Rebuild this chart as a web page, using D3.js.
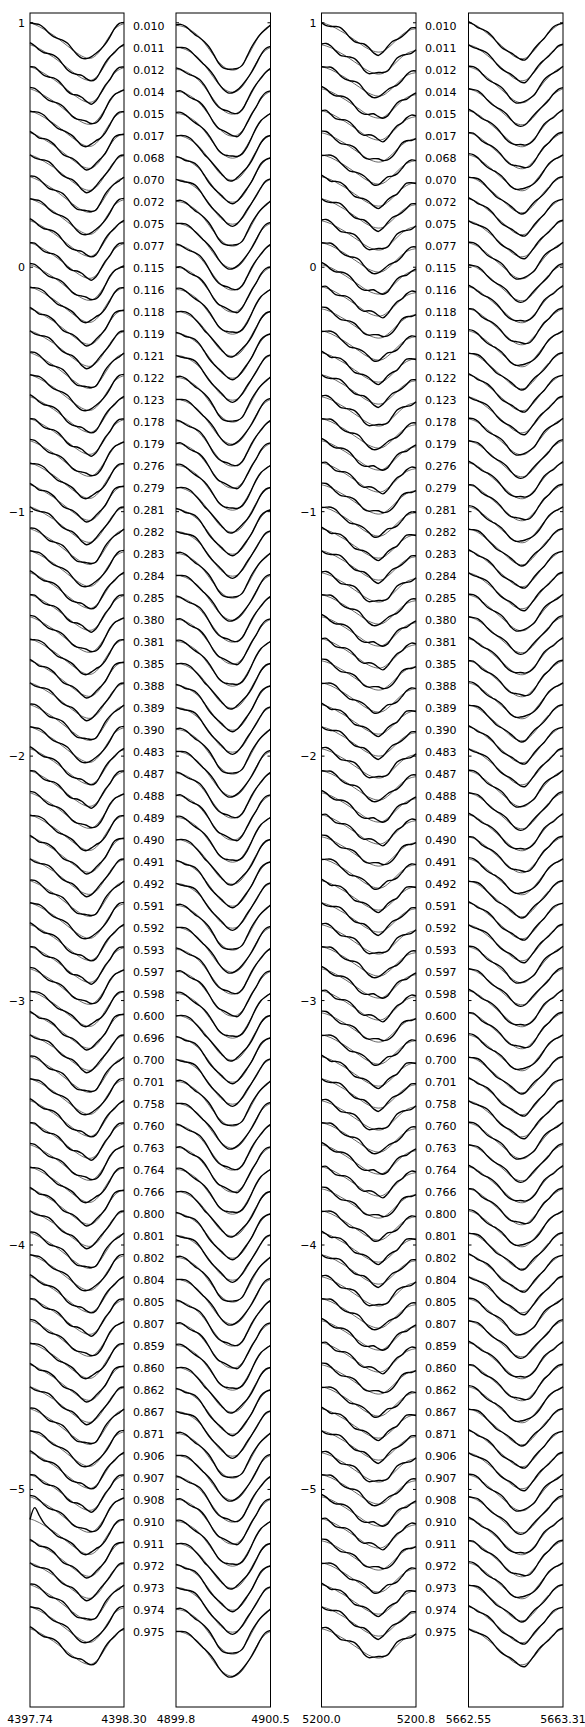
<!DOCTYPE html>
<html>
<head>
<meta charset="utf-8">
<script src="https://cdn.jsdelivr.net/npm/d3@7"></script>
<style>
body { margin: 0; background: #fff; }
svg text { font-family: "DejaVu Sans", sans-serif; font-size: 11px; fill: #000; }
</style>
</head>
<body>
<svg id="chart" width="585" height="1727"></svg>
<script>
// Rotational phases, one per stacked profile (top to bottom)
var phases = ["0.010","0.011","0.012","0.014","0.015","0.017","0.068","0.070","0.072","0.075",
  "0.077","0.115","0.116","0.118","0.119","0.121","0.122","0.123","0.178","0.179",
  "0.276","0.279","0.281","0.282","0.283","0.284","0.285","0.380","0.381","0.385",
  "0.388","0.389","0.390","0.483","0.487","0.488","0.489","0.490","0.491","0.492",
  "0.591","0.592","0.593","0.597","0.598","0.600","0.696","0.700","0.701","0.758",
  "0.760","0.763","0.764","0.766","0.800","0.801","0.802","0.804","0.805","0.807",
  "0.859","0.860","0.862","0.867","0.871","0.906","0.907","0.908","0.910","0.911",
  "0.972","0.973","0.974","0.975"];

// Wavelength range of each panel and the tick labels printed under it
var waveRanges = [[4397.74, 4398.30], [4899.8, 4900.5], [5200.0, 5200.8], [5662.55, 5663.31]];
var waveLabels = [["4397.74", "4398.30"], ["4899.8", "4900.5"], ["5200.0", "5200.8"], ["5662.55", "5663.31"]];

var yTicks = [1, 0, -1, -2, -3, -4, -5];
var yDomain = [-5.89, 1.04];
var rowStep = 0.09;

// Positions across each panel (fraction of the wavelength range)
var samplePos = [0, 0.05, 0.1, 0.15, 0.2, 0.25, 0.3, 0.35, 0.4, 0.45, 0.5,
  0.55, 0.6, 0.65, 0.7, 0.75, 0.8, 0.85, 0.9, 0.95, 1];

var depth4398 = [0, 0.007, 0.016, 0.027, 0.039, 0.051, 0.065, 0.08, 0.095, 0.11, 0.124,
  0.136, 0.144, 0.145, 0.134, 0.112, 0.082, 0.052, 0.026, 0.011, 0.004];
var depth4900 = [0, 0.002, 0.008, 0.018, 0.031, 0.048, 0.071, 0.097, 0.124, 0.149, 0.167,
  0.179, 0.183, 0.178, 0.161, 0.132, 0.097, 0.062, 0.031, 0.011, 0];
var depth5200 = [0, 0.005, 0.012, 0.022, 0.033, 0.044, 0.057, 0.07, 0.083, 0.097, 0.108,
  0.116, 0.12, 0.117, 0.104, 0.087, 0.068, 0.05, 0.036, 0.028, 0.024];
var depth5663 = [0, 0.006, 0.015, 0.029, 0.044, 0.06, 0.077, 0.094, 0.111, 0.128, 0.141,
  0.147, 0.145, 0.131, 0.111, 0.087, 0.062, 0.041, 0.023, 0.009, 0];
var panelDepths = [depth4398, depth4900, depth5200, depth5663];
var panelBase = [0, -0.011, 0, 0];

// Bump patterns of the observed profiles (thousandths, scaled per panel)
var wiggle0 = [0, 1, 3, 2, -1, -2, 0, 3, 4, 1, -2, -3, -1, 2, 3, 1, -2, -2, 1, 3, 2];
var wiggle1 = [2, 3, 1, -2, -3, -1, 2, 3, 1, -1, 0, 3, 4, 1, -2, -3, -1, 2, 1, -1, 0];
var wiggle2 = [0, -2, -1, 2, 4, 2, -1, -2, 0, 3, 2, -2, -4, -1, 2, 3, 0, -2, -1, 2, 1];
var wiggle3 = [3, 1, -2, -2, 1, 3, 3, 0, -3, -2, 1, 4, 2, -1, -2, 1, 3, 1, -2, 0, 2];
var wiggle4 = [-1, 1, 3, 3, 0, -2, -3, 0, 2, 3, 1, -2, -1, 3, 4, 0, -3, -2, 1, 2, 0];
var wiggle5 = [1, 3, 2, -1, -3, -1, 2, 4, 2, -2, -3, 0, 2, 1, -1, 2, 4, 2, -1, -2, 1];
var wiggle6 = [0, 2, -1, -3, -1, 2, 3, 1, -2, -1, 3, 4, 1, -3, -2, 1, 2, 0, 2, 3, 1];
var wiggle7 = [2, 0, -2, 1, 3, 2, -1, -3, -1, 2, 2, -1, -3, 0, 3, 2, -1, 1, 3, 1, -1];
var wiggles = [wiggle0, wiggle1, wiggle2, wiggle3, wiggle4, wiggle5, wiggle6, wiggle7];
var wiggleScale = [2.8, 2.2, 3.4, 2.3];

// Isolated spike in the data (panel, row, sample index, height)
var spikePanel = [0, 0];
var spikeRow = [68, 68];
var spikeIdx = [1, 2];
var spikeHeight = [0.05, 0.02];

// Layout
var panelLeft = [30, 176, 321.5, 468.5];
var panelRight = [124, 270.5, 416, 563];
var svg = d3.select("#chart");

var yScale = d3.scaleLinear().domain(yDomain).range([1707, 13]);

var line = d3.line()
    .x(function (d) { return d[0]; })
    .y(function (d) { return d[1]; })
    .curve(d3.curveCatmullRom);

waveRanges.forEach(function (range, p) {
    var xScale = d3.scaleLinear().domain(range).range([panelLeft[p], panelRight[p]]);
    var g = svg.append("g").attr("class", "panel");
    var depth = panelDepths[p];

    phases.forEach(function (ph, k) {
        var cont = 1 + panelBase[p] - k * rowStep;
        var wig = wiggles[(k * 3 + p * 5) % wiggles.length];

        var model = samplePos.map(function (f, i) {
            return [xScale(range[0] + f * (range[1] - range[0])), yScale(cont - depth[i])];
        });
        var obs = samplePos.map(function (f, i) {
            var v = cont - depth[i] + wig[i] * wiggleScale[p] / 1000;
            for (var s = 0; s < spikeRow.length; s++) {
                if (spikePanel[s] == p && spikeRow[s] == k && spikeIdx[s] == i) v += spikeHeight[s];
            }
            return [xScale(range[0] + f * (range[1] - range[0])), yScale(v)];
        });

        g.append("path").attr("d", line(model))
            .style("fill", "none").style("stroke", "#444").style("stroke-width", 0.8);
        g.append("path").attr("d", line(obs))
            .style("fill", "none").style("stroke", "#000").style("stroke-width", 1.4);
    });

    // frame
    g.append("rect")
        .attr("x", panelLeft[p]).attr("y", yScale(yDomain[1]))
        .attr("width", panelRight[p] - panelLeft[p])
        .attr("height", yScale(yDomain[0]) - yScale(yDomain[1]))
        .style("fill", "none").style("stroke", "#000").style("stroke-width", 1);

    // inward ticks on both sides
    yTicks.forEach(function (t) {
        g.append("line").attr("x1", panelLeft[p]).attr("x2", panelLeft[p] + 3)
            .attr("y1", yScale(t)).attr("y2", yScale(t)).style("stroke", "#000");
        g.append("line").attr("x1", panelRight[p]).attr("x2", panelRight[p] - 3)
            .attr("y1", yScale(t)).attr("y2", yScale(t)).style("stroke", "#000");
    });

    // wavelength labels at the panel edges
    g.append("text").attr("x", panelLeft[p]).attr("y", 1723)
        .style("text-anchor", "middle").text(waveLabels[p][0]);
    g.append("text").attr("x", panelRight[p]).attr("y", 1723)
        .style("text-anchor", "middle").text(waveLabels[p][1]);

    // y tick labels on panels 1 and 3, phase labels after them
    if (p % 2 == 0) {
        yTicks.forEach(function (t) {
            g.append("text").attr("x", panelLeft[p] - 5).attr("y", yScale(t) + 4)
                .style("text-anchor", "end").text(t < 0 ? "\u2212" + (-t) : String(t));
        });
        phases.forEach(function (ph, k) {
            g.append("text").attr("x", panelRight[p] + 9).attr("y", yScale(1 - k * rowStep) + 7)
                .text(ph);
        });
    }
});
</script>
</body>
</html>
